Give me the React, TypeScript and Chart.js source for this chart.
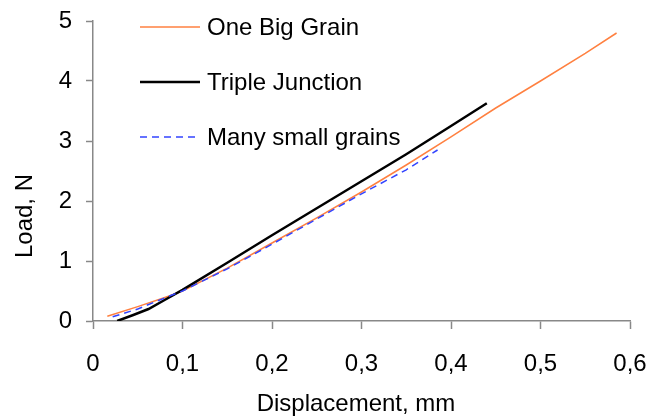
import React, { useEffect, useRef } from "react";
import { Chart, registerables } from "chart.js";

Chart.register(...registerables);

const seriesNames = ["One Big Grain", "Triple Junction", "Many small grains"];

const bigGrainX = [0.016, 0.05, 0.086, 0.1, 0.15, 0.2, 0.25, 0.3, 0.35, 0.4, 0.45, 0.5, 0.55, 0.585];
const bigGrainY = [0.08, 0.24, 0.42, 0.5, 0.88, 1.3, 1.72, 2.15, 2.6, 3.07, 3.55, 4.0, 4.46, 4.8];

const tripleX = [0.027, 0.045, 0.062, 0.08, 0.1, 0.15, 0.2, 0.25, 0.3, 0.35, 0.4, 0.44];
const tripleY = [0.0, 0.1, 0.2, 0.35, 0.52, 0.97, 1.43, 1.88, 2.33, 2.78, 3.25, 3.63];

const smallX = [0.022, 0.05, 0.086, 0.1, 0.15, 0.2, 0.25, 0.3, 0.35, 0.385];
const smallY = [0.07, 0.2, 0.42, 0.5, 0.87, 1.28, 1.7, 2.12, 2.52, 2.85];

const xTickValues = [0, 0.1, 0.2, 0.3, 0.4, 0.5, 0.6];
const yTickValues = [0, 1, 2, 3, 4, 5];

const xTitle = "Displacement, mm";
const yTitle = "Load, N";

const FONT = "'Liberation Sans', Arial, sans-serif";
const COLORS = ["#FF8040", "#000000", "#3344FF"];

const zip = (xs: number[], ys: number[]) => xs.map((x, i) => ({ x, y: ys[i] }));

export default function App() {
  const ref = useRef<HTMLCanvasElement | null>(null);

  useEffect(() => {
    document.body.style.margin = "0";
    const canvas = ref.current;
    if (!canvas) return;

    const overlay = {
      id: "overlay",
      afterDraw(chart: any) {
        const ctx = chart.ctx;
        ctx.save();
        ctx.font = `24px ${FONT}`;
        ctx.fillStyle = "#000";
        // legend
        const rows = [27, 82, 137];
        const widths = [1.5, 2.5, 1.5];
        const dashes = [[], [], [7, 5]];
        seriesNames.forEach((name, i) => {
          ctx.beginPath();
          ctx.strokeStyle = COLORS[i];
          ctx.lineWidth = widths[i];
          ctx.setLineDash(dashes[i]);
          ctx.moveTo(140, rows[i]);
          ctx.lineTo(200, rows[i]);
          ctx.stroke();
          ctx.setLineDash([]);
          ctx.textAlign = "left";
          ctx.textBaseline = "middle";
          ctx.fillText(name, 207, rows[i] + 1);
        });
        // axis titles
        ctx.textAlign = "center";
        ctx.textBaseline = "middle";
        ctx.fillText(xTitle, 356, 404);
        ctx.translate(25, 216);
        ctx.rotate(-Math.PI / 2);
        ctx.fillText(yTitle, 0, 0);
        ctx.restore();
      },
    };

    const chart = new Chart(canvas, {
      type: "line",
      data: {
        datasets: [
          {
            label: seriesNames[0],
            data: zip(bigGrainX, bigGrainY),
            borderColor: COLORS[0],
            borderWidth: 1.5,
            pointRadius: 0,
            tension: 0,
            order: 2,
          },
          {
            label: seriesNames[1],
            data: zip(tripleX, tripleY),
            borderColor: COLORS[1],
            borderWidth: 2.5,
            pointRadius: 0,
            tension: 0,
            order: 1,
          },
          {
            label: seriesNames[2],
            data: zip(smallX, smallY),
            borderColor: COLORS[2],
            borderWidth: 1.5,
            borderDash: [7, 5],
            pointRadius: 0,
            tension: 0,
            order: 0,
          },
        ],
      },
      options: {
        responsive: false,
        animation: false,
        layout: { padding: { left: 0, right: 34, top: 21, bottom: 0 } },
        plugins: { legend: { display: false }, tooltip: { enabled: false } },
        scales: {
          x: {
            type: "linear",
            min: 0,
            max: 0.6,
            afterFit: (s: any) => {
              s.height = 95;
              s.paddingLeft = 0;
              s.paddingRight = 0;
            },
            afterBuildTicks: (s: any) => {
              s.ticks = xTickValues.map((v) => ({ value: v }));
            },
            grid: { display: true, drawOnChartArea: false, tickLength: 8, color: "#888", tickWidth: 1.5 },
            border: { display: true, color: "#888", width: 1.5 },
            ticks: {
              padding: 21,
              color: "#000",
              font: { family: FONT, size: 24 },
              maxRotation: 0,
              autoSkip: false,
              callback: (v: any) => (v === 0 ? "0" : Number(v).toFixed(1).replace(".", ",")),
            },
          },
          y: {
            type: "linear",
            min: 0,
            max: 5,
            afterFit: (s: any) => {
              s.width = 93;
              s.paddingTop = 0;
              s.paddingBottom = 0;
            },
            afterBuildTicks: (s: any) => {
              s.ticks = yTickValues.map((v) => ({ value: v }));
            },
            grid: { display: true, drawOnChartArea: false, tickLength: 7, color: "#888", tickWidth: 1.5 },
            border: { display: true, color: "#888", width: 1.5 },
            ticks: {
              padding: 14,
              color: "#000",
              font: { family: FONT, size: 24 },
              autoSkip: false,
              callback: (v: any) => String(v),
            },
          },
        },
      },
      plugins: [overlay],
    });

    return () => chart.destroy();
  }, []);

  return (
    <div style={{ position: "absolute", left: 0, top: 0, width: 664, height: 416, background: "#fff" }}>
      <canvas ref={ref} width={664} height={416} />
    </div>
  );
}
